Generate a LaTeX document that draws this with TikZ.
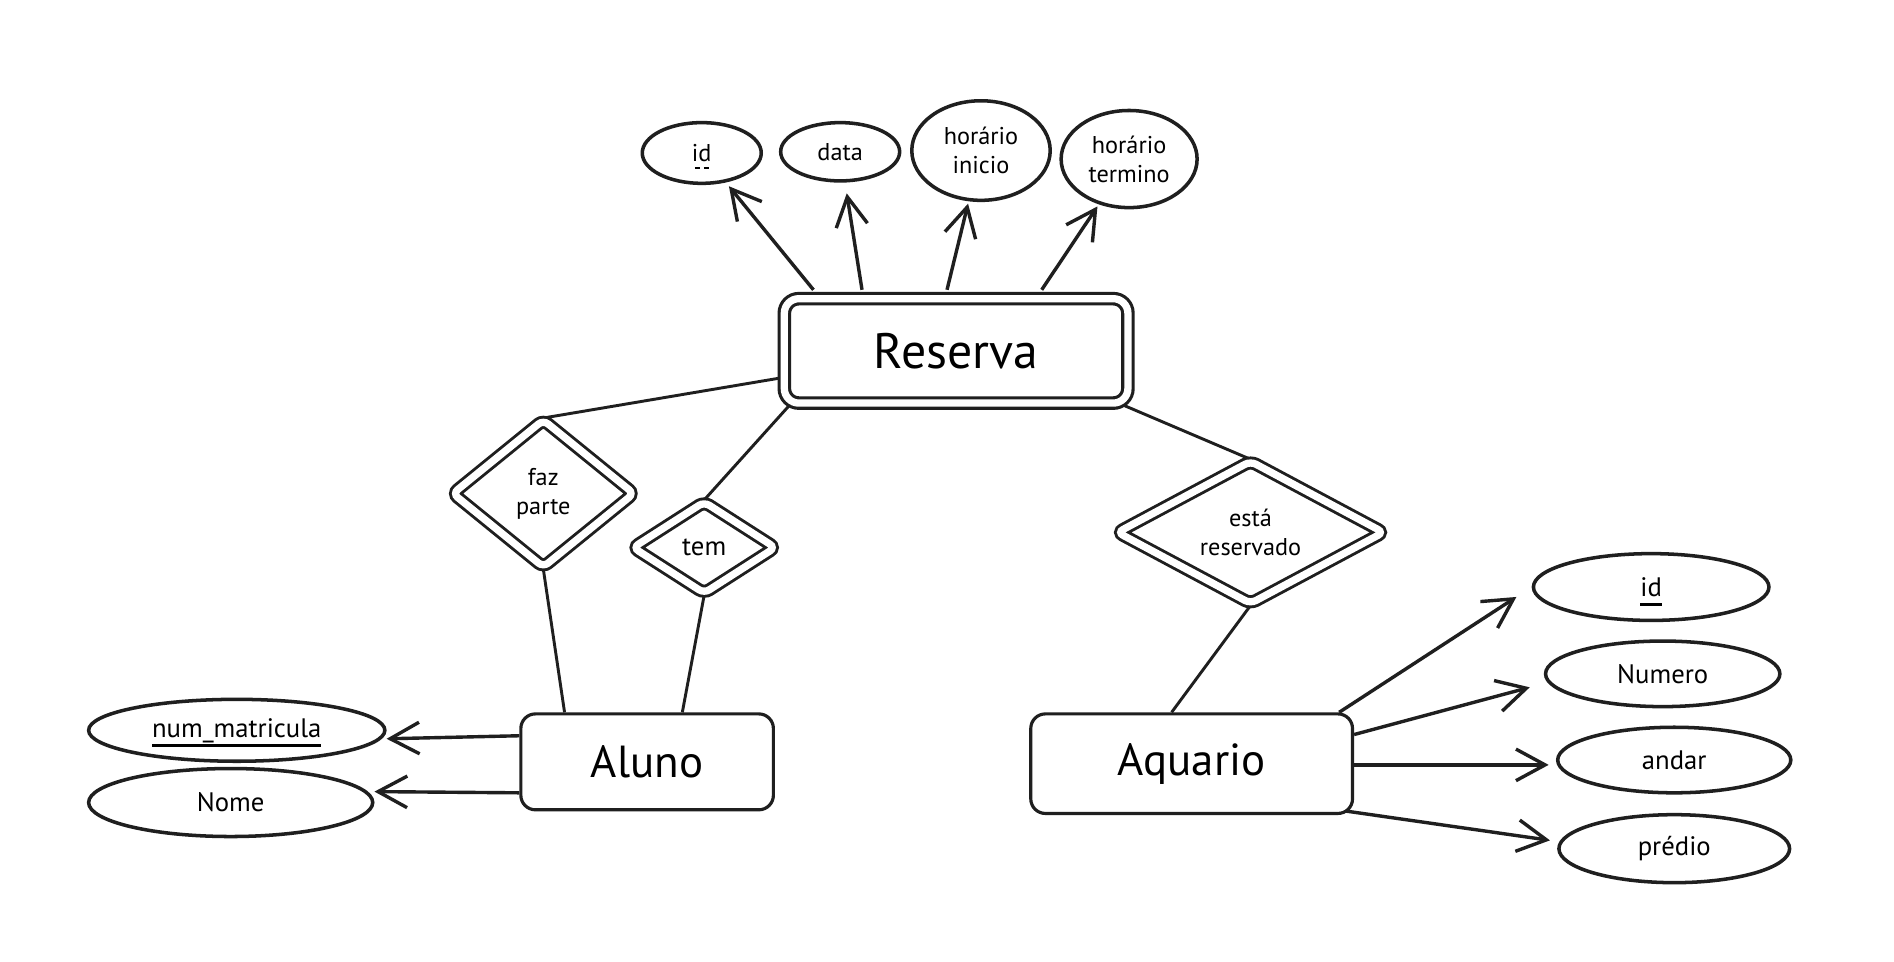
\documentclass[tikz,border=0pt]{standalone}
\usepackage{fontspec}
\setmainfont{PT Sans}
\usetikzlibrary{shapes.geometric,arrows.meta,backgrounds}
\newsavebox{\undbox}
\newcommand{\solidund}[1]{\sbox{\undbox}{#1}\leavevmode\rlap{\usebox{\undbox}}\raisebox{-8pt}[0pt][0pt]{\rule{\wd\undbox}{2.2pt}}}
\newcommand{\dashund}[1]{\sbox{\undbox}{#1}\leavevmode\rlap{\usebox{\undbox}}\raisebox{-6pt}[0pt][0pt]{\hbox to \wd\undbox{\xleaders\hbox to 6pt{\hss\rule{4pt}{1.8pt}\hss}\hfill}}}
\begin{document}
\begin{tikzpicture}[x=1pt,y=-1pt,
  ink/.style={draw=black!88, line width=2.9pt},
  attr/.style={ellipse, ink, fill=white, inner sep=0pt, align=center, font=\fontsize{22}{26}\selectfont},
  tattr/.style={attr, font=\fontsize{20}{24}\selectfont},
  entity/.style={rectangle, rounded corners=12pt, draw=black!88, line width=2.6pt, fill=white, font=\fontsize{37}{40}\selectfont},
  weakent/.style={entity, double=white, double distance=6pt, line width=2.6pt, font=\fontsize{41}{44}\selectfont},
  relbox/.style={diamond, draw=black!88, line width=2.4pt, double=white, double distance=6pt, fill=white, rounded corners=5pt, inner sep=0pt, align=center, font=\fontsize{20}{24}\selectfont},
  arr/.style={draw=black!88, line width=2.8pt, -{Straight Barb[length=24pt,width=26pt]}},
  link/.style={draw=black!88, line width=2.4pt},
]
\useasboundingbox (0,0) rectangle (1560,792);

% weak entity
\node[weakent, minimum width=283pt, minimum height=86pt] (reserva) at (787.5,289) {Reserva};

% attributes of Reserva
\node[tattr, minimum width=98pt, minimum height=50pt] (rid) at (578,126) {\dashund{id}};
\node[tattr, minimum width=98pt, minimum height=48pt] (rdata) at (692,125) {data};
\node[tattr, minimum width=114pt, minimum height=82pt] (rini) at (808,124) {horário\\inicio};
\node[tattr, minimum width=112pt, minimum height=80pt] (rter) at (930,131) {horário\\termino};

% relationships
\node[relbox, minimum width=150pt, minimum height=122pt, shape aspect=1.25] (faz) at (447.5,406.5) {faz\\parte};
\node[relbox, minimum width=118pt, minimum height=76pt, shape aspect=1.55, font=\fontsize{22}{26}\selectfont] (tem) at (580,451) {tem};
\node[relbox, minimum width=220pt, minimum height=118pt, shape aspect=1.9] (esta) at (1030,438.5) {está\\reservado};

% entities
\node[entity, minimum width=208pt, minimum height=79pt] (aluno) at (533,627.5) {Aluno};
\node[entity, minimum width=265pt, minimum height=82pt] (aquario) at (981.5,629) {Aquario};

% attributes of Aluno
\node[attr, minimum width=244pt, minimum height=51pt] (num) at (195,601.5) {\solidund{num\_matricula}};
\node[attr, minimum width=234pt, minimum height=56pt] (nome) at (190,661) {Nome};

% attributes of Aquario
\node[attr, minimum width=194pt, minimum height=55pt] (aid) at (1360,483.5) {\solidund{id}};
\node[attr, minimum width=193pt, minimum height=54pt] (anum) at (1369.5,555) {Numero};
\node[attr, minimum width=192pt, minimum height=54pt] (andar) at (1379,626) {andar};
\node[attr, minimum width=190pt, minimum height=56pt] (pred) at (1379,699) {prédio};

% plain links behind the shapes
\begin{scope}[on background layer]
\fill[white] (0,0) rectangle (1560,792);
\draw[link] ([yshift=-22pt]reserva.west) -- (faz.north);
\draw[link] ([xshift=6pt]reserva.south west) -- (tem.north);
\draw[link] ([xshift=-6pt]reserva.south east) -- (esta.north);
\draw[link] (faz.south) -- ([xshift=-68pt]aluno.north);
\draw[link] (tem.south) -- ([xshift=29pt]aluno.north);
\draw[link] (esta.south) -- ([xshift=-16.5pt]aquario.north);
\end{scope}

% arrows to attributes
\draw[arr, shorten >=4pt] ([xshift=-117.5pt,yshift=6pt]reserva.north) -- (rid);
\draw[arr, shorten >=9pt] ([xshift=-77.5pt,yshift=6pt]reserva.north) -- (rdata);
\draw[arr, shorten >=2pt] ([xshift=-7.5pt,yshift=6pt]reserva.north) -- (rini);
\draw[arr, shorten >=2pt] ([xshift=70.5pt,yshift=6pt]reserva.north) -- (rter);

\draw[arr] ([yshift=21.5pt]aluno.west) -- ([yshift=-7pt]num.east);
\draw[arr] ([yshift=-25.5pt]aluno.west) -- ([yshift=9pt]nome.east);

\draw[arr, shorten >=15pt] ([xshift=121.5pt]aquario.north) -- (aid.west);
\draw[arr, shorten >=12pt] ([yshift=24pt]aquario.east) -- ([yshift=-8pt]anum.west);
\draw[arr, shorten >=6pt] ([yshift=-1pt]aquario.east) -- ([yshift=-4pt]andar.west);
\draw[arr, shorten >=6pt] ([xshift=-7pt,yshift=-39pt]aquario.east) -- ([yshift=6pt]pred.west);
\end{tikzpicture}
\end{document}
